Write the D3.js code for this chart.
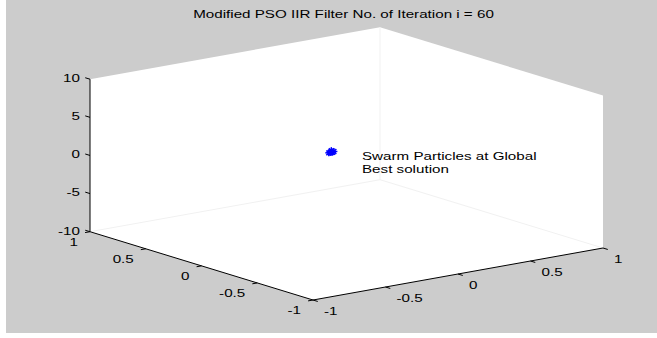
<!DOCTYPE html>
<html>
<head>
<meta charset="utf-8">
<script src="https://cdn.jsdelivr.net/npm/d3@7"></script>
<style>
  html, body { margin: 0; padding: 0; background: #fff; }
  svg { display: block; }
</style>
</head>
<body>
<div id="chart"></div>
<script>
// axis ranges and ticks
const xDomain = [-1, 1];
const yDomain = [-1, 1];
const zDomain = [-10, 10];
const xTicks = [-1, -0.5, 0, 0.5, 1];
const yTicks = [-1, -0.5, 0, 0.5, 1];
const zTicks = [-10, -5, 0, 5, 10];

// swarm particles (all gathered at the global best)
const particleX = [-0.12, -0.11, -0.13, -0.12, -0.115, -0.125];
const particleY = [-0.02, -0.03, -0.01, -0.02, -0.025, -0.015];
const particleZ = [2.0, 2.1, 1.9, 2.2, 2.0, 1.95];

const titleText = 'Modified PSO IIR Filter No. of Iteration i = 60';
const noteLines = ['Swarm Particles at Global', 'Best solution'];

const width = 657;
const height = 338;
const stretch = 1.38; // picture is stretched sideways

// projection of the 3-D box onto the page
const origin = [313, 300];        // x=-1, y=-1, z=-10
const ex = [290, -52];            // x from -1 to 1
const ey = [-223, -68.3];         // y from -1 to 1
const ez = [0, -152.5];           // z from -10 to 10

const sx = d3.scaleLinear().domain(xDomain).range([0, 1]);
const sy = d3.scaleLinear().domain(yDomain).range([0, 1]);
const sz = d3.scaleLinear().domain(zDomain).range([0, 1]);

function proj(x, y, z) {
  const u = sx(x), v = sy(y), w = sz(z);
  return [origin[0] + u * ex[0] + v * ey[0] + w * ez[0],
          origin[1] + u * ex[1] + v * ey[1] + w * ez[1]];
}
function unit(vec) {
  const l = Math.hypot(vec[0], vec[1]);
  return [vec[0] / l, vec[1] / l];
}
const fmt = t => String(t); // plain hyphen minus, like the original

const svg = d3.select('#chart').append('svg')
  .attr('width', width)
  .attr('height', height)
  .attr('font-family', 'Liberation Sans, Arial, sans-serif')
  .attr('font-size', 11);

svg.append('rect')
  .attr('x', 6).attr('y', 0)
  .attr('width', width - 6).attr('height', 333)
  .attr('fill', '#cccccc');

// white visible faces of the box
const xs = xDomain, ys = yDomain, zs = zDomain;
const hull = [
  proj(xs[0], ys[0], zs[0]), proj(xs[1], ys[0], zs[0]), proj(xs[1], ys[0], zs[1]),
  proj(xs[1], ys[1], zs[1]), proj(xs[0], ys[1], zs[1]), proj(xs[0], ys[1], zs[0])
];
svg.append('path')
  .attr('d', 'M' + hull.map(p => p.join(',')).join('L') + 'Z')
  .attr('fill', '#ffffff');

// faint hidden back edges
const back = proj(xs[1], ys[1], zs[0]);
const faint = svg.append('g')
  .attr('stroke', '#f1f1f1')
  .attr('stroke-width', 1)
  .attr('fill', 'none');
[[back, proj(xs[0], ys[1], zs[0])], [back, proj(xs[1], ys[0], zs[0])], [back, proj(xs[1], ys[1], zs[1])]]
  .forEach(seg => faint.append('line')
    .attr('x1', seg[0][0]).attr('y1', seg[0][1])
    .attr('x2', seg[1][0]).attr('y2', seg[1][1]));

// axis lines
const axes = svg.append('g').attr('stroke', '#000').attr('stroke-width', 1).attr('fill', 'none');
const axisLines = [
  [proj(xs[0], ys[0], zs[0]), proj(xs[1], ys[0], zs[0])],
  [proj(xs[0], ys[0], zs[0]), proj(xs[0], ys[1], zs[0])],
  [proj(xs[0], ys[1], zs[0]), proj(xs[0], ys[1], zs[1])]
];
axes.selectAll('line.axis')
  .data(axisLines)
  .join('line')
  .attr('class', 'axis')
  .attr('x1', d => d[0][0]).attr('y1', d => d[0][1])
  .attr('x2', d => d[1][0]).attr('y2', d => d[1][1]);

const tickLen = 5;
const ux = unit(ex), uy = unit(ey);

function labelAt(g, x, y, text, anchor) {
  g.append('text')
    .attr('transform', `translate(${x},${y}) scale(${stretch},1)`)
    .attr('text-anchor', anchor)
    .attr('dy', '0.35em')
    .attr('fill', '#000')
    .text(text);
}

// x ticks (front -> right edge), pointing out along -y
const gx = svg.append('g');
xTicks.forEach(t => {
  const p = proj(t, ys[0], zs[0]);
  gx.append('line').attr('stroke', '#000')
    .attr('x1', p[0]).attr('y1', p[1])
    .attr('x2', p[0] - uy[0] * tickLen).attr('y2', p[1] - uy[1] * tickLen);
  labelAt(gx, p[0] + 11, p[1] + 11, fmt(t), 'start');
});

// y ticks (front -> left edge), pointing out along -x
const gy = svg.append('g');
yTicks.forEach(t => {
  const p = proj(xs[0], t, zs[0]);
  gy.append('line').attr('stroke', '#000')
    .attr('x1', p[0]).attr('y1', p[1])
    .attr('x2', p[0] - ux[0] * tickLen).attr('y2', p[1] - ux[1] * tickLen);
  labelAt(gy, p[0] - 12, p[1] + 10, fmt(t), 'end');
});

// z ticks (left vertical edge), pointing out along +y
const gz = svg.append('g');
zTicks.forEach(t => {
  const p = proj(xs[0], ys[1], t);
  gz.append('line').attr('stroke', '#000')
    .attr('x1', p[0]).attr('y1', p[1])
    .attr('x2', p[0] + uy[0] * tickLen).attr('y2', p[1] + uy[1] * tickLen);
  labelAt(gz, p[0] - 10, p[1] - 1, fmt(t), 'end');
});

// swarm particles as asterisk markers
const particles = particleX.map((x, i) => ({ x, y: particleY[i], z: particleZ[i] }));
const r = 3.5;
const mk = svg.append('g').attr('stroke', '#0000ff').attr('stroke-width', 1.4);
particles.forEach(d => {
  const p = proj(d.x, d.y, d.z);
  const g = mk.append('g').attr('transform', `translate(${p[0]},${p[1]})`);
  g.append('line').attr('x1', -r).attr('x2', r).attr('y1', 0).attr('y2', 0);
  g.append('line').attr('x1', 0).attr('x2', 0).attr('y1', -r).attr('y2', r);
  g.append('line').attr('x1', -r * 0.7).attr('x2', r * 0.7).attr('y1', -r * 0.7).attr('y2', r * 0.7);
  g.append('line').attr('x1', -r * 0.7).attr('x2', r * 0.7).attr('y1', r * 0.7).attr('y2', -r * 0.7);
});

// annotation
noteLines.forEach((line, i) => {
  svg.append('text')
    .attr('transform', `translate(362,${160 + i * 12.7}) scale(${stretch},1)`)
    .attr('fill', '#000')
    .text(line);
});

// title
svg.append('text')
  .attr('transform', `translate(343.5,18) scale(${stretch},1)`)
  .attr('text-anchor', 'middle')
  .attr('fill', '#000')
  .text(titleText);
</script>
</body>
</html>
